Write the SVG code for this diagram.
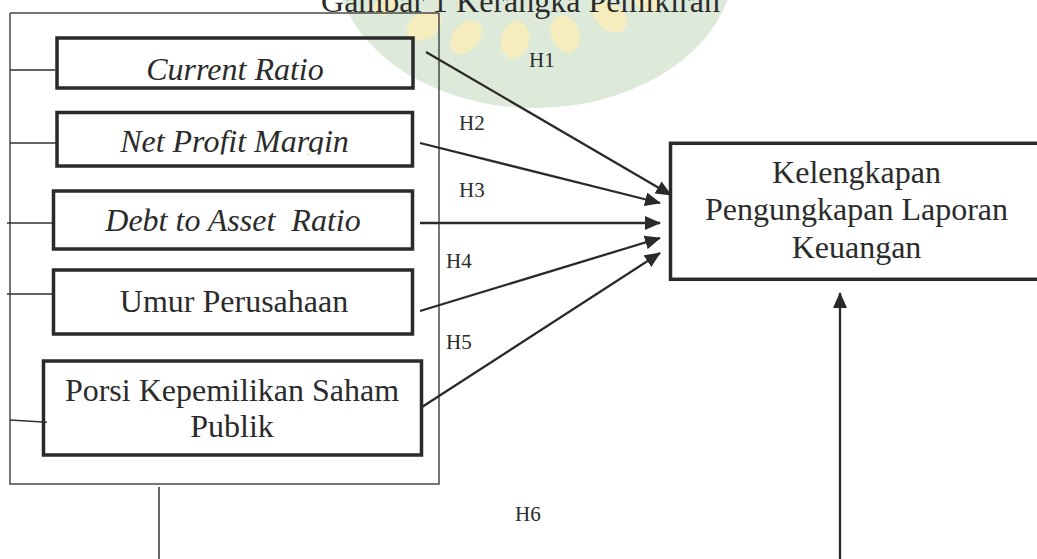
<svg xmlns="http://www.w3.org/2000/svg" width="1037" height="559" viewBox="0 0 1037 559">
  <style>
    .box { fill: none; stroke: #2a2a2a; stroke-width: 3.5; }
    .frame { fill: none; stroke: #4a4a4a; stroke-width: 1.5; }
    .tick { stroke: #333; stroke-width: 1.5; fill: none; }
    .conn { stroke: #2a2a2a; stroke-width: 2.3; fill: none; }
    .t { font-family: "Liberation Serif", "Times New Roman", serif; font-size: 32px; fill: #2b2b2b; text-anchor: middle; }
    .i { font-style: italic; }
    .h { font-family: "Liberation Serif", "Times New Roman", serif; font-size: 21px; fill: #2b2b2b; }
  </style>
  <defs>
    <marker id="arr" viewBox="0 0 16 14" markerWidth="16" markerHeight="14" refX="15" refY="7" orient="auto" markerUnits="userSpaceOnUse">
      <path d="M0,0 L16,7 L0,14 z" fill="#2a2a2a"/>
    </marker>
    <clipPath id="npmClip">
      <rect x="58" y="114" width="354" height="40.5"/>
    </clipPath>
  </defs>
  <rect width="1037" height="559" fill="#ffffff"/>

  <!-- watermark -->
  <g id="watermark" opacity="0.8">
    <ellipse cx="535" cy="-40" rx="200" ry="148" fill="#d5e6d1"/>
    <g fill="#f4e9ae">
      <ellipse cx="424" cy="26" rx="19" ry="13" transform="rotate(149 424 26)"/>
      <ellipse cx="466" cy="37" rx="19" ry="13" transform="rotate(132 466 37)"/>
      <ellipse cx="515" cy="40" rx="19" ry="14" transform="rotate(104 515 40)"/>
      <ellipse cx="565" cy="34" rx="19" ry="14" transform="rotate(68 565 34)"/>
      <ellipse cx="610" cy="17" rx="19" ry="13" transform="rotate(37 610 17)"/>
      <ellipse cx="647" cy="2" rx="13" ry="9" transform="rotate(21 647 2)"/>
      <ellipse cx="386" cy="6" rx="13" ry="9" transform="rotate(163 386 6)"/>
    </g>
  </g>

  <text class="t" x="520.5" y="12">Gambar 1 Kerangka Pemikiran</text>

  <!-- outer frame -->
  <g id="frame">
    <path class="frame" d="M10,13 H439 M10,13 V484 H439 V13"/>
    <path class="tick" d="M10,70 H55 M10,143 H56 M7,223 H53 M7,294 H53 M10,420 L47,422.3"/>
    <path class="tick" d="M159,487 V559"/>
  </g>

  <g id="node-current-ratio">
    <rect class="box" x="57" y="38" width="356" height="50"/>
    <text class="t i" x="235" y="80">Current Ratio</text>
  </g>
  <g id="node-net-profit-margin">
    <rect class="box" x="57" y="112.5" width="355.5" height="53.5"/>
    <text class="t i" x="234.5" y="152" clip-path="url(#npmClip)">Net Profit Margin</text>
  </g>
  <g id="node-debt-to-asset">
    <rect class="box" x="53.5" y="191" width="359" height="58"/>
    <text class="t i" x="233" y="231" xml:space="preserve">Debt to Asset  Ratio</text>
  </g>
  <g id="node-umur">
    <rect class="box" x="53.5" y="270" width="359" height="64"/>
    <text class="t" x="234" y="312">Umur Perusahaan</text>
  </g>
  <g id="node-porsi">
    <rect class="box" x="43.5" y="361" width="378" height="94"/>
    <text class="t" x="232" y="400.5">Porsi Kepemilikan Saham</text>
    <text class="t" x="232" y="437">Publik</text>
  </g>
  <g id="node-kelengkapan">
    <rect class="box" x="670.5" y="143.3" width="400" height="136"/>
    <text class="t" x="856.5" y="183">Kelengkapan</text>
    <text class="t" x="856.5" y="220">Pengungkapan Laporan</text>
    <text class="t" x="856.5" y="258">Keuangan</text>
  </g>

  <g id="connectors">
    <line class="conn" x1="426" y1="52" x2="671" y2="195" marker-end="url(#arr)"/>
    <line class="conn" x1="420" y1="143" x2="660" y2="203" marker-end="url(#arr)"/>
    <line class="conn" x1="420" y1="223" x2="660" y2="223" marker-end="url(#arr)"/>
    <line class="conn" x1="420" y1="311" x2="660" y2="238" marker-end="url(#arr)"/>
    <line class="conn" x1="422" y1="407" x2="660" y2="253" marker-end="url(#arr)"/>
    <line class="conn" x1="840" y1="559" x2="840" y2="293" marker-end="url(#arr)"/>
  </g>

  <g id="labels">
    <text class="h" x="529" y="67">H1</text>
    <text class="h" x="459" y="130">H2</text>
    <text class="h" x="459" y="197">H3</text>
    <text class="h" x="446" y="268">H4</text>
    <text class="h" x="446" y="349">H5</text>
    <text class="h" x="515" y="521">H6</text>
  </g>
</svg>
